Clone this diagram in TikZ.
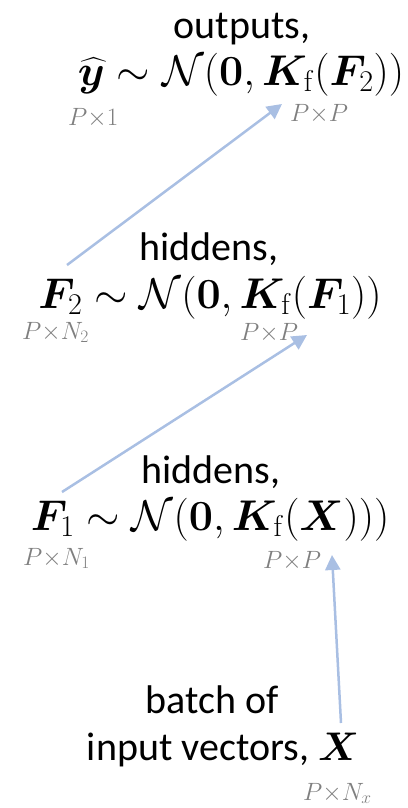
\RequirePackage{fix-cm}
\documentclass[tikz,border=0pt]{standalone}
\usepackage{amsmath}
\usepackage{bm}
\usepackage[no-math]{fontspec}
\setmainfont{Carlito}
\usetikzlibrary{arrows.meta}
\definecolor{arrowblue}{HTML}{A9BFE3}
\definecolor{dimgray}{HTML}{7F7F7F}
\tikzset{
  big/.style={font=\fontsize{40}{48}\selectfont, inner sep=0pt},
  bigmath/.style={font=\fontsize{43}{50}\selectfont, inner sep=0pt},
  dim/.style={font=\fontsize{25}{29}\selectfont, text=dimgray, inner sep=0pt},
  conn/.style={draw=arrowblue, line width=2.5pt, -{Triangle[length=15pt,width=15pt]}}
}
\begin{document}
\begin{tikzpicture}[x=1pt,y=-1pt]
\useasboundingbox (0,0) rectangle (407,808);
% outputs
\node[big, anchor=base] (outT) at (242,38) {outputs,};
\node[bigmath, anchor=base] (outM) at (241,85) {$\widehat{\bm{y}}\sim\mathcal{N}(\bm{0},\bm{K}_{\mathrm{f}}(\bm{F}_2))$};
\node[dim, anchor=base west] (outA) at (68,125) {$P{\times}1$};
\node[dim, anchor=base west] (outB) at (290,121) {$P{\times}P$};
% hiddens 2
\node[big, anchor=base] (h2T) at (209,260) {hiddens,};
\node[bigmath, anchor=base] (h2M) at (210,308) {$\bm{F}_2\sim\mathcal{N}(\bm{0},\bm{K}_{\mathrm{f}}(\bm{F}_1))$};
\node[dim, anchor=base west] (h2A) at (22,339) {$P{\times}N_2$};
\node[dim, anchor=base west] (h2B) at (240,340) {$P{\times}P$};
% hiddens 1
\node[big, anchor=base] (h1T) at (211,483) {hiddens,};
\node[bigmath, anchor=base] (h1M) at (210,530) {$\bm{F}_1\sim\mathcal{N}(\bm{0},\bm{K}_{\mathrm{f}}(\bm{X})))$};
\node[dim, anchor=base west] (h1A) at (23,565) {$P{\times}N_1$};
\node[dim, anchor=base west] (h1B) at (263,568) {$P{\times}P$};
% inputs
\node[big, anchor=base] (inT) at (212,713) {batch of};
\node[big, anchor=base] (inM) at (223,760) {input vectors, $\bm{X}$};
\node[dim, anchor=base west] (inA) at (303,800) {$P{\times}N_x$};
% connectors
\coordinate (a3s) at (341,723);
\coordinate (a3e) at (332,555);
\coordinate (a2s) at (62,492);
\coordinate (a2e) at (307,335);
\coordinate (a1s) at (67,265);
\coordinate (a1e) at (282,104);
\draw[conn] (a3s) -- (a3e);
\draw[conn] (a2s) -- (a2e);
\draw[conn] (a1s) -- (a1e);
\end{tikzpicture}
\end{document}
